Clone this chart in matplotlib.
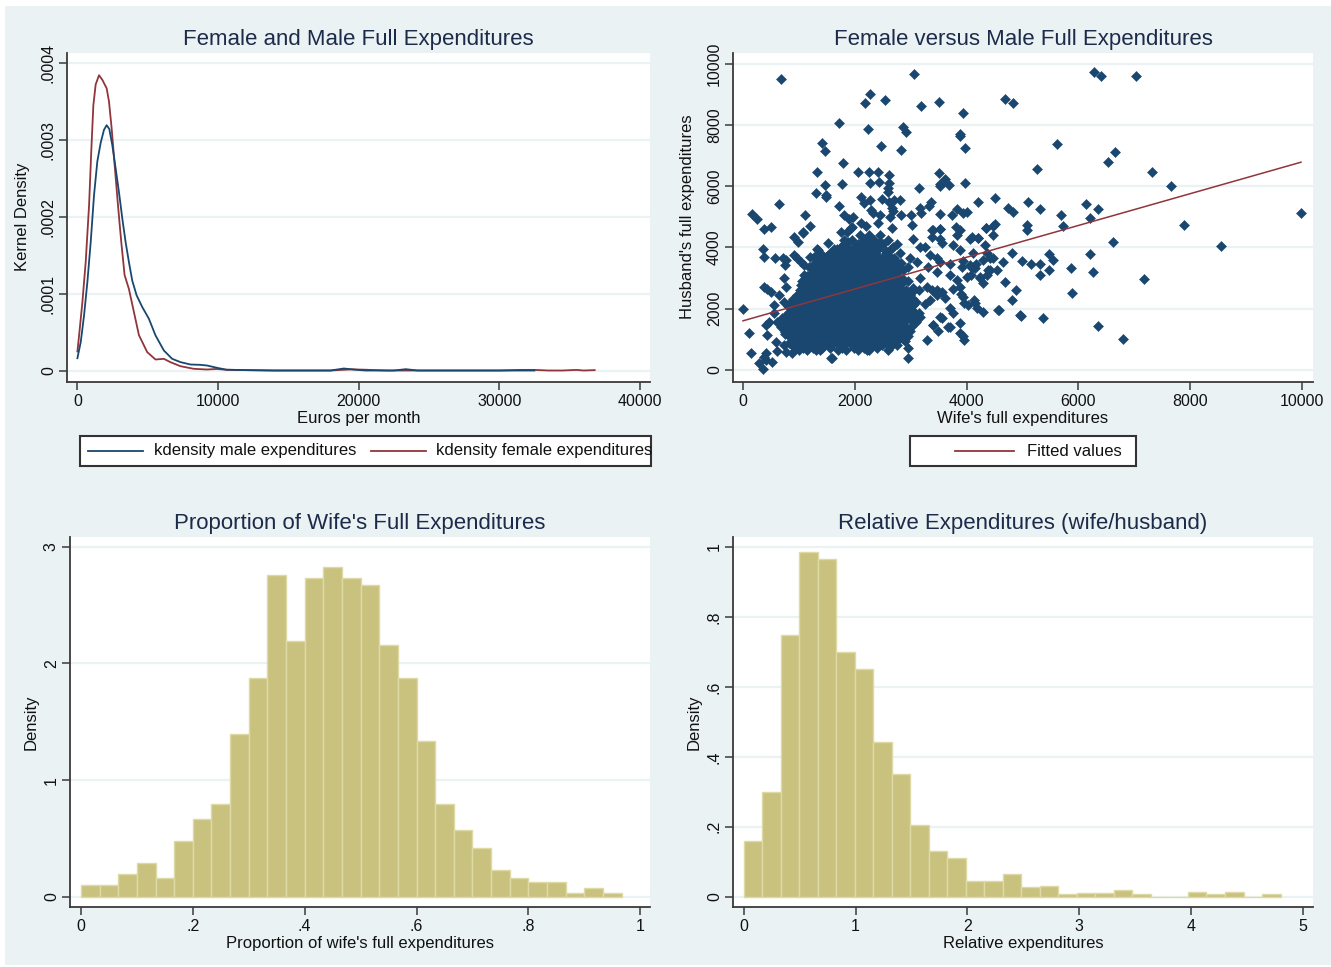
import numpy as np
import matplotlib
matplotlib.use("Agg")
import matplotlib.pyplot as plt
from matplotlib.transforms import Affine2D
from matplotlib.patches import Rectangle
from matplotlib.lines import Line2D

plt.rcParams['font.family'] = ['Liberation Sans', 'DejaVu Sans']

# ---------------- data ----------------
# Panel 1: kernel densities (values in units of 1e-4)
male_x = [0, 236, 473, 709, 946, 1182, 1418, 1655, 1891, 2080, 2270, 2482, 2719, 2955,
          3191, 3428, 3664, 3900, 4210, 4610, 5082, 5556, 6147, 6738, 7329, 8038, 8714,
          9220, 9930, 10600, 12000, 14000, 16000, 18000, 18950, 19800, 20500, 22500,
          23357, 24200, 26000, 28000, 30000, 32500]
male_y = [0.16, 0.369, 0.717, 1.15, 1.67, 2.28, 2.72, 2.96, 3.13, 3.19, 3.14, 2.93, 2.63,
          2.32, 1.98, 1.67, 1.41, 1.17, 0.978, 0.826, 0.674, 0.456, 0.261, 0.152, 0.109,
          0.078, 0.074, 0.065, 0.035, 0.01, 0.005, 0.0, 0.0, 0.0, 0.026, 0.01, 0.0, 0.0,
          0.017, 0.0, 0.0, 0.0, 0.0, 0.0]
fem_x = [0, 120, 355, 590, 830, 995, 1135, 1300, 1537, 1773, 2080, 2245, 2435, 2650, 2885,
         3120, 3357, 3664, 4020, 4375, 4965, 5556, 6147, 6620, 7329, 8274, 9220, 9900,
         10600, 12000, 14000, 16000, 18000, 19500, 20500, 22000, 24000, 26000, 28000,
         30000, 31500, 32500, 33500, 34500, 35500, 36000, 36790]
fem_y = [0.248, 0.456, 0.89, 1.41, 2.15, 2.89, 3.45, 3.72, 3.84, 3.78, 3.67, 3.50, 3.15,
         2.67, 2.15, 1.67, 1.24, 1.06, 0.76, 0.46, 0.239, 0.143, 0.152, 0.108, 0.056,
         0.022, 0.013, 0.02, 0.01, 0.005, 0.0, 0.0, 0.0, 0.015, 0.01, 0.0, 0.0, 0.0, 0.0,
         0.0, 0.008, 0.008, 0.0, 0.0, 0.008, 0.0, 0.005]

# Panel 2: scatter (wife, husband) pairs
top_points = [(674, 9510), (3059, 9650), (2266, 9000), (2182, 8700), (2535, 8810), (3190, 8630),
    (3500, 8740), (3941, 8390), (4687, 8860), (4836, 8700), (1717, 8070), (2242, 7870),
    (2862, 7920), (2910, 7760), (3882, 7690), (3882, 7620), (3966, 7250), (1419, 7420),
    (1460, 7150), (2469, 7310), (2821, 7190), (1795, 6740), (1324, 6470), (2057, 6450),
    (2248, 6470), (2415, 6450), (2612, 6370), (3501, 6420), (3620, 6220), (3519, 6070),
    (3530, 6000), (3691, 6030), (3972, 6110), (1777, 6070), (2266, 6110), (2433, 6140),
    (2607, 6110), (2594, 5930), (2588, 5800), (3149, 5950), (1461, 6020), (1300, 5790),
    (1491, 5720), (1491, 5650), (2105, 5640), (2165, 5440), (2272, 5550), (2493, 5590),
    (2612, 5490), (2701, 5530), (2803, 5530), (2671, 5280), (1717, 5350), (644, 5400),
    (161, 5100), (256, 4920), (376, 4590), (507, 4660), (1109, 5060), (1199, 4690),
    (1073, 4510), (1807, 5060), (1896, 4930), (1974, 4990), (1926, 4640), (2105, 4790),
    (2195, 4680), (2296, 5220), (2332, 5110), (2451, 5040), (2415, 4800), (2630, 5000),
    (2677, 5190), (2833, 5040), (3012, 5040), (3030, 4740), (3166, 5280), (3178, 5120),
    (3327, 5350), (3369, 5470), (3519, 5100), (3746, 5060), (3835, 5250), (3942, 5110),
    (4014, 5160), (4210, 5470), (4508, 5620), (4740, 5280), (4823, 5160), (5098, 5480),
    (5087, 4720), (3806, 4660), (4342, 4620), (4508, 4760), (3381, 4550), (3530, 4610),
    (2671, 4630)]
right_points = [(6285, 9730), (6410, 9590), (7025, 9590), (5612, 7370), (6660, 7110),
    (6535, 6780), (5259, 6560), (7317, 6470), (7662, 5990), (9982, 5120), (5307, 5240),
    (5694, 5060), (5719, 4680), (6141, 5430), (6207, 4950), (6350, 5240), (6619, 4160),
    (7884, 4720), (8556, 4050), (5468, 3790), (5546, 3590), (5152, 3460), (5307, 3450),
    (5307, 3100), (5469, 3270), (5873, 3340), (6207, 3780), (6261, 3210), (7168, 2960),
    (5891, 2510), (5367, 1690), (6345, 1420), (6804, 1020)]
mid_points = [(5075, 4560), (4997, 3550), (4687, 2860), (4884, 2610), (4812, 2280), (4973, 1770),
    (4587, 1950), (4301, 1880), (4336, 4090), (4479, 4400), (4646, 3510), (4479, 3640),
    (4538, 3260), (4360, 3090), (4240, 2990), (4420, 3260), (4168, 3450), (4100, 3310),
    (4071, 3090), (3953, 2170), (4030, 2120), (4136, 2280), (3762, 1850), (3703, 1410),
    (3882, 1190), (3960, 980), (3494, 1270), (3554, 1680), (3393, 1470), (3286, 980),
    (2957, 700), (2946, 400), (2630, 730), (2778, 980), (2839, 1060), (2988, 1270),
    (3047, 1790), (3703, 2010), (3613, 2350), (3554, 2530), (3893, 2480), (3762, 2640),
    (3822, 2930), (3703, 3090), (3464, 3200), (3315, 3370), (3465, 3640), (3524, 3530),
    (3703, 3470), (3345, 3750), (3166, 4020), (3255, 4020), (3047, 4280), (3375, 4340),
    (3524, 4280), (3554, 4130), (3762, 4070), (3822, 4390), (4060, 4280), (4090, 4330),
    (4210, 4300), (4121, 3800), (3912, 3370), (3107, 3530), (2988, 3640), (3166, 2990),
    (3285, 2720), (3375, 2610), (3464, 2450), (3047, 2560), (2957, 2280), (3047, 2120),
    (3166, 1740), (2868, 1680), (2750, 1460), (2600, 1240), (2510, 1410), (3882, 4560),
    (3405, 4560), (3524, 4610), (4807, 3800), (4360, 3800), (4420, 3640), (4300, 3580),
    (4390, 3260), (4240, 3040), (4300, 2820), (4568, 1950), (4955, 1790), (4210, 4320),
    (4479, 4690), (4342, 4640), (3882, 3910), (3941, 3540), (4061, 3420), (4150, 3310),
    (4002, 3040), (3882, 2710), (3941, 2390), (4150, 2170), (4180, 2020), (3882, 1520),
    (3941, 1090), (3673, 1410), (3405, 1470), (2212, 650), (1586, 380), (3524, 1740),
    (3345, 2280), (3464, 2610)]
left_points = [(5, 1980), (107, 1200), (148, 560), (286, 220), (363, 30), (406, 540), (380, 420),
    (415, 310), (525, 270), (614, 600), (733, 820), (882, 540), (763, 590), (596, 920),
    (435, 1140), (406, 1470), (376, 2710), (435, 2650), (495, 2540), (376, 3690), (567, 3660),
    (363, 3960), (912, 4340), (1078, 4480), (763, 3600), (912, 3740), (972, 3640),
    (1032, 3530), (1092, 3420), (1330, 3960), (1378, 3800), (1270, 3690), (1449, 3690),
    (1628, 3960), (1807, 4230), (1866, 4500), (1956, 4660), (1747, 4500), (733, 2990),
    (763, 2710), (644, 2440), (555, 2110), (555, 1840), (465, 1570), (614, 1570), (674, 1410),
    (733, 2220), (823, 2110), (882, 1790), (1002, 1470), (1122, 1140), (1002, 980),
    (1300, 650), (1569, 380), (1092, 3090), (1032, 2770), (1211, 2990), (1211, 2540),
    (1389, 3200), (990, 4180), (1526, 4130), (1347, 3910), (1199, 3700), (721, 3640),
    (751, 3420)]
# dense core: husband level -> wife values
core_levels = [650, 725, 800, 875, 950, 1025, 1100, 1175, 1250, 1325, 1400, 1475, 1550,
               1625, 1700, 1775, 1850, 1925, 2000, 2075, 2150, 2225, 2300, 2375, 2450,
               2525, 2600, 2675, 2750, 2825, 2900, 2975, 3050, 3125, 3200, 3275, 3350,
               3425, 3500, 3575, 3650, 3725, 3800, 3875, 3950, 4025, 4100, 4175, 4250, 4400]
core_wife = [
    [1000, 1150, 1380, 1700, 1850, 2050, 2250, 2600],
    [930, 1080, 1260, 1420, 1560, 1770, 1990, 2170, 2400],
    [880, 1050, 1200, 1300, 1450, 1600, 1780, 1950, 2100, 2300, 2480, 2750],
    [820, 990, 1130, 1270, 1400, 1540, 1690, 1840, 2010, 2190, 2400, 2610],
    [950, 1080, 1220, 1350, 1480, 1620, 1750, 1900, 2030, 2180, 2350, 2520, 2700, 2900],
    [890, 1030, 1170, 1300, 1440, 1570, 1710, 1860, 2000, 2140, 2290, 2450, 2640, 2840],
    [820, 980, 1110, 1250, 1390, 1520, 1660, 1800, 1940, 2080, 2220, 2380, 2560, 2760, 2950],
    [750, 900, 1050, 1180, 1320, 1460, 1590, 1730, 1870, 2010, 2150, 2300, 2470, 2660, 2860],
    [760, 900, 1040, 1170, 1310, 1440, 1580, 1720, 1860, 2000, 2140, 2290, 2450, 2640, 2820],
    [830, 970, 1100, 1240, 1370, 1510, 1650, 1790, 1930, 2070, 2210, 2370, 2530, 2720, 2900],
    [850, 990, 1120, 1260, 1400, 1540, 1680, 1820, 1960, 2100, 2250, 2400, 2580, 2760, 3000],
    [720, 920, 1050, 1190, 1330, 1470, 1610, 1750, 1890, 2030, 2170, 2320, 2490, 2670, 2880],
    [780, 920, 1060, 1200, 1340, 1480, 1620, 1760, 1900, 2040, 2190, 2340, 2510, 2690, 2880, 3100],
    [850, 990, 1130, 1270, 1410, 1550, 1690, 1830, 1970, 2110, 2260, 2420, 2600, 2790, 3000],
    [700, 870, 1010, 1150, 1290, 1430, 1570, 1710, 1850, 1990, 2130, 2280, 2440, 2620, 2800, 2980],
    [780, 940, 1080, 1220, 1360, 1500, 1640, 1780, 1920, 2060, 2200, 2360, 2530, 2710, 2890],
    [800, 950, 1090, 1230, 1370, 1510, 1650, 1790, 1930, 2070, 2220, 2370, 2530, 2710, 2900, 3150],
    [870, 1020, 1160, 1300, 1440, 1580, 1720, 1860, 2000, 2140, 2290, 2450, 2620, 2810, 3050],
    [880, 1020, 1160, 1300, 1440, 1580, 1720, 1860, 2000, 2140, 2290, 2450, 2620, 2800, 3000],
    [810, 950, 1090, 1230, 1370, 1510, 1650, 1790, 1930, 2070, 2220, 2370, 2540, 2720, 2900],
    [820, 960, 1100, 1240, 1380, 1520, 1660, 1800, 1940, 2080, 2230, 2390, 2560, 2740, 2920, 3250],
    [890, 1030, 1170, 1310, 1450, 1590, 1730, 1870, 2010, 2150, 2300, 2460, 2640, 2830, 3100],
    [900, 1040, 1180, 1320, 1460, 1600, 1740, 1880, 2020, 2170, 2320, 2480, 2660, 2850, 3050],
    [970, 1110, 1250, 1390, 1530, 1670, 1810, 1950, 2090, 2240, 2400, 2570, 2750, 2950],
    [960, 1110, 1250, 1390, 1530, 1670, 1810, 1950, 2100, 2250, 2410, 2590, 2780, 2980],
    [1030, 1180, 1320, 1460, 1600, 1740, 1880, 2030, 2180, 2330, 2500, 2680, 2880],
    [1020, 1170, 1310, 1450, 1590, 1730, 1870, 2010, 2160, 2320, 2500, 2700, 2920, 3150],
    [1090, 1240, 1380, 1520, 1660, 1800, 1950, 2100, 2250, 2410, 2590, 2800, 3050],
    [1100, 1240, 1380, 1520, 1660, 1800, 1940, 2090, 2240, 2400, 2580, 2780],
    [1150, 1290, 1430, 1570, 1710, 1850, 1990, 2140, 2300, 2460, 2650, 2850],
    [1050, 1200, 1340, 1480, 1620, 1760, 1900, 2050, 2200, 2360, 2530, 2720, 2950],
    [1110, 1270, 1410, 1550, 1690, 1830, 1980, 2130, 2290, 2460, 2650, 2870],
    [1150, 1300, 1450, 1600, 1750, 1900, 2060, 2220, 2390, 2570, 2780],
    [1220, 1370, 1520, 1670, 1820, 1980, 2140, 2300, 2480, 2670],
    [1250, 1400, 1560, 1720, 1880, 2040, 2210, 2380, 2560, 2760],
    [1320, 1480, 1640, 1800, 1960, 2120, 2290, 2460, 2650, 2860],
    [1180, 1350, 1520, 1690, 1860, 2030, 2200, 2370, 2550, 2740, 2950],
    [1250, 1420, 1590, 1760, 1940, 2110, 2250, 2330, 2480, 2680],
    [1300, 1480, 1660, 1840, 2020, 2200, 2280, 2390, 2600, 2820],
    [1380, 1570, 1750, 1930, 2110, 2240, 2320, 2460, 2720],
    [1420, 1620, 1820, 2020, 2180, 2260, 2350, 2500, 2700],
    [1500, 1720, 1920, 2100, 2220, 2300, 2420, 2620],
    [1550, 1780, 1990, 2150, 2250, 2340, 2560, 2800],
    [1620, 1840, 2060, 2170, 2270, 2380, 2550],
    [1680, 1900, 2120, 2200, 2300, 2420, 2650],
    [1750, 1980, 2180, 2270, 2400, 2680],
    [1800, 2050, 2150, 2230, 2320, 2500, 2750],
    [1880, 2120, 2220, 2300, 2450],
    [1950, 2180, 2260, 2350, 2600],
    [2100, 2250, 2450],
]
fit_x = [0, 9982]
fit_y = [1600, 6780]

# Panel 3: histogram of wife's share
prop_bin_width = 1 / 30
prop_density = [0.10, 0.10, 0.197, 0.286, 0.157, 0.48, 0.67, 0.797, 1.397, 1.877, 2.763,
                2.19, 2.73, 2.83, 2.73, 2.67, 2.16, 1.877, 1.337, 0.797, 0.571, 0.414,
                0.229, 0.163, 0.129, 0.129, 0.029, 0.071, 0.029]
# Panel 4: histogram of relative expenditures
rel_bin_width = 0.1655
rel_density = [0.159, 0.299, 0.748, 0.987, 0.967, 0.701, 0.65, 0.443, 0.35, 0.205, 0.131,
               0.112, 0.046, 0.046, 0.065, 0.027, 0.032, 0.008, 0.012, 0.012, 0.02, 0.008,
               0.0, 0.0, 0.013, 0.008, 0.013, 0.0, 0.008]

# ---------------- style ----------------
W, H = 1331, 967
BG = '#EAF2F3'
GRID = '#EAF2F3'
NAVY = '#1A476F'
MAROON = '#90353B'
KHAKI = '#C9C27F'
KHAKI_EDGE = '#DEDAA6'
AXC = '#3A3A3A'
TITLEC = '#1C2B4A'
TXT = '#111111'

fig = plt.figure(figsize=(W / 100, H / 100), dpi=100)
fig.patch.set_facecolor('white')
pix = Affine2D().scale(1 / W, -1 / H).translate(0, 1) + fig.transFigure
fig.add_artist(Rectangle((5, 6), W - 5, 959, transform=pix, facecolor=BG,
                         edgecolor='none', zorder=-10))


def add_axes(l, t, r, b):
    return fig.add_axes([l / W, 1 - b / H, (r - l) / W, (b - t) / H])


def style(ax, xt, xl, yt, yl):
    ax.set_facecolor('white')
    for s in ['top', 'right']:
        ax.spines[s].set_visible(False)
    for s in ['left', 'bottom']:
        ax.spines[s].set_color(AXC)
        ax.spines[s].set_linewidth(1.3)
    ax.set_xticks(xt, xl)
    ax.set_yticks(yt, yl)
    ax.tick_params(axis='both', direction='out', length=5.5, width=1.1, color=AXC,
                   labelsize=11.5, labelcolor=TXT)
    ax.tick_params(axis='x', pad=3.5)
    ax.tick_params(axis='y', pad=2.5, labelrotation=90)
    for lab in ax.get_yticklabels():
        lab.set_va('center')
    ax.grid(axis='y', color=GRID, linewidth=1.6)
    ax.grid(axis='x', visible=False)
    ax.set_axisbelow(True)


def labels(ax, title, tpad, xlabel, xl_pos, ylabel, yl_pos):
    ax.set_title(title, fontsize=16, color=TITLEC, pad=tpad)
    ax.set_xlabel(xlabel, fontsize=12, color=TXT)
    ax.xaxis.set_label_coords(*xl_pos, transform=pix)
    ax.set_ylabel(ylabel, fontsize=12, color=TXT)
    ax.yaxis.set_label_coords(*yl_pos, transform=pix)


# Panel 1
ax1 = add_axes(67, 53, 650, 381.5)
ax1.plot(fem_x, np.array(fem_y) * 1e-4, color=MAROON, lw=1.3)
ax1.plot(male_x, np.array(male_y) * 1e-4, color=NAVY, lw=1.3)
ax1.set_xlim(-740, 40725)
ax1.set_ylim(-0.0000143, 0.0004129)
style(ax1, [0, 10000, 20000, 30000, 40000], ['0', '10000', '20000', '30000', '40000'],
      [0, 0.0001, 0.0002, 0.0003, 0.0004], ['0', '.0001', '.0002', '.0003', '.0004'])
labels(ax1, 'Female and Male Full Expenditures', 6.1, 'Euros per month', (358.5, 411),
       'Kernel Density', (30, 217))

# Panel 2
pts = top_points + right_points + mid_points + left_points
wife = [p[0] for p in pts]
husband = [p[1] for p in pts]
for lev, row in zip(core_levels, core_wife):
    wife += row
    husband += [lev] * len(row)
ax2 = add_axes(733, 53, 1313, 381.5)
ax2.plot(wife, husband, 'D', ms=4.8, color=NAVY, mec=NAVY, mew=0.4, ls='none')
ax2.plot(fit_x, fit_y, color=MAROON, lw=1.1)
ax2.set_xlim(-179, 10197)
ax2.set_ylim(-382, 10346)
ticks2 = [0, 2000, 4000, 6000, 8000, 10000]
style(ax2, ticks2, [str(t) for t in ticks2], ticks2, [str(t) for t in ticks2])
labels(ax2, 'Female versus Male Full Expenditures', 6.1, "Wife's full expenditures",
       (1023, 411), "Husband's full expenditures", (695, 217))

# Panel 3
ax3 = add_axes(70, 537, 650, 906.7)
left3 = np.arange(len(prop_density)) * prop_bin_width
ax3.bar(left3, prop_density, width=prop_bin_width, align='edge', color=KHAKI,
        edgecolor=KHAKI_EDGE, linewidth=1.0)
ax3.set_xlim(-0.0197, 1.0175)
ax3.set_ylim(-0.086, 3.085)
style(ax3, [0, 0.2, 0.4, 0.6, 0.8, 1], ['0', '.2', '.4', '.6', '.8', '1'],
      [0, 1, 2, 3], ['0', '1', '2', '3'])
labels(ax3, "Proportion of Wife's Full Expenditures", 5.5,
       "Proportion of wife's full expenditures", (360, 936), 'Density', (39, 722))

# Panel 4
ax4 = add_axes(733, 537, 1313, 906.7)
left4 = np.arange(len(rel_density)) * rel_bin_width
ax4.bar(left4, rel_density, width=rel_bin_width, align='edge', color=KHAKI,
        edgecolor=KHAKI_EDGE, linewidth=1.0)
ax4.set_xlim(-0.097, 5.09)
ax4.set_ylim(-0.0286, 1.0286)
style(ax4, [0, 1, 2, 3, 4, 5], ['0', '1', '2', '3', '4', '5'],
      [0, 0.2, 0.4, 0.6, 0.8, 1], ['0', '.2', '.4', '.6', '.8', '1'])
labels(ax4, 'Relative Expenditures (wife/husband)', 5.5, 'Relative expenditures',
       (1023, 936), 'Density', (702, 722))


# Legends (drawn in pixel coordinates)
def legend_box(l, t, r, b, items):
    fig.add_artist(Rectangle((l, t), r - l, b - t, transform=pix, facecolor='white',
                             edgecolor='#333333', linewidth=1.5, zorder=5))
    yc = (t + b) / 2
    for x0, x1, col, tx, lab in items:
        fig.add_artist(Line2D([x0, x1], [yc, yc], transform=pix, color=col, lw=1.3, zorder=6))
        fig.text(tx, yc, lab, transform=pix, ha='left', va='center', fontsize=12,
                 color=TXT, zorder=6)


legend_box(80, 436, 651, 466, [(88, 143, NAVY, 154, 'kdensity male expenditures'),
                               (371, 426, MAROON, 436, 'kdensity female expenditures')])
legend_box(910, 436, 1136, 466, [(955, 1014, MAROON, 1027, 'Fitted values')])

fig.savefig('out.png', dpi=100, facecolor=fig.get_facecolor())
